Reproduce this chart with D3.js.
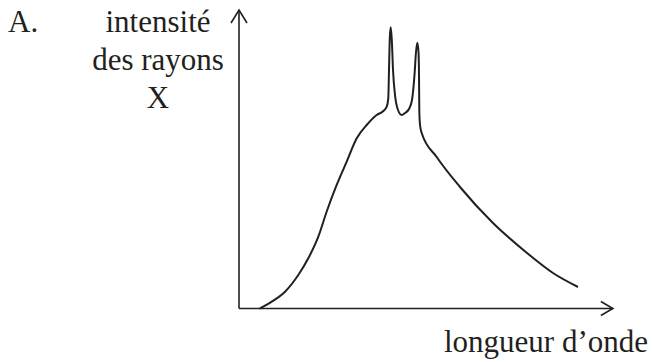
<!DOCTYPE html>
<meta charset="utf-8">
<style>
body { margin: 0; background: #fff; }
</style>
<body>
<script src="https://cdn.jsdelivr.net/npm/d3@7"></script>
<script>
// spectre schématique (unités arbitraires)
var longueur = [0.56, 0.872, 1.227, 1.581, 1.848, 2.115, 2.339, 2.605, 2.872, 3.139, 3.405, 3.672, 3.848, 3.939, 3.981, 4.0, 4.019, 4.045, 4.075, 4.107, 4.16, 4.24, 4.339, 4.427, 4.533, 4.613, 4.68, 4.72, 4.755, 4.787, 4.8, 4.808, 4.827, 4.872, 5.272, 5.893, 6.773, 7.68, 8.373, 9.04];
var intensite = [0, 0.227, 0.56, 1.117, 1.673, 2.393, 3.233, 4.117, 4.893, 5.673, 6.117, 6.45, 6.583, 6.727, 7.007, 7.95, 8.95, 9.373, 8.95, 7.95, 7.117, 6.617, 6.45, 6.517, 6.65, 6.95, 7.783, 8.55, 8.86, 8.55, 7.783, 6.617, 6.117, 5.85, 5.05, 4.05, 2.85, 1.85, 1.183, 0.717];
var labelY = ["intensité", "des rayons", "X"];
var labelX = "longueur d\u2019onde";
var lettre = "A.";

var width = 652, height = 362;
var police = "'Liberation Serif', 'Times New Roman', 'DejaVu Serif', serif";
var svg = d3.select("body").append("svg")
    .attr("width", width)
    .attr("height", height);

var x = d3.scaleLinear().domain([0, 10]).range([239, 614]),
    y = d3.scaleLinear().domain([0, 10]).range([308.5, 8.5]);

var data = longueur.map(function(d, i) { return [d, intensite[i]]; });

var ink = "#231f20";

// axes
svg.append("line")
    .attr("x1", x(0)).attr("y1", y(0))
    .attr("x2", x(0)).attr("y2", y(9.95))
    .attr("stroke", ink).attr("stroke-width", 1.6);
svg.append("line")
    .attr("x1", x(0)).attr("y1", y(0))
    .attr("x2", x(9.97)).attr("y2", y(0))
    .attr("stroke", ink).attr("stroke-width", 1.6);

// fleches
var ty = [x(0), y(9.95)];
svg.append("path")
    .attr("d", "M" + (ty[0] - 8) + "," + (ty[1] + 13) + "L" + ty[0] + "," + ty[1] + "L" + (ty[0] + 8) + "," + (ty[1] + 13))
    .attr("fill", "none").attr("stroke", ink).attr("stroke-width", 1.6);
var tx = [x(9.97), y(0)];
svg.append("path")
    .attr("d", "M" + (tx[0] - 12) + "," + (tx[1] - 7) + "L" + tx[0] + "," + tx[1] + "L" + (tx[0] - 12) + "," + (tx[1] + 7))
    .attr("fill", "none").attr("stroke", ink).attr("stroke-width", 1.6);

// courbe
var line = d3.line()
    .x(function(d) { return x(d[0]); })
    .y(function(d) { return y(d[1]); })
    .curve(d3.curveMonotoneX);

svg.append("path")
    .datum(data)
    .attr("d", line)
    .attr("fill", "none")
    .attr("stroke", ink)
    .attr("stroke-width", 2);

// textes
function txt(sel) {
  return sel.attr("font-family", police).attr("font-size", 31).attr("fill", ink);
}

txt(svg.append("text")).attr("x", 8).attr("y", 32).text(lettre);

var lignesY = [32, 69.5, 107.5];
txt(svg.selectAll(".ly")
    .data(labelY)
  .enter().append("text")
    .attr("class", "ly"))
    .attr("x", 158)
    .attr("y", function(d, i) { return lignesY[i]; })
    .attr("text-anchor", "middle")
    .text(function(d) { return d; });

txt(svg.append("text"))
    .attr("x", 648)
    .attr("y", 352)
    .attr("text-anchor", "end")
    .text(labelX);
</script>
</body>
